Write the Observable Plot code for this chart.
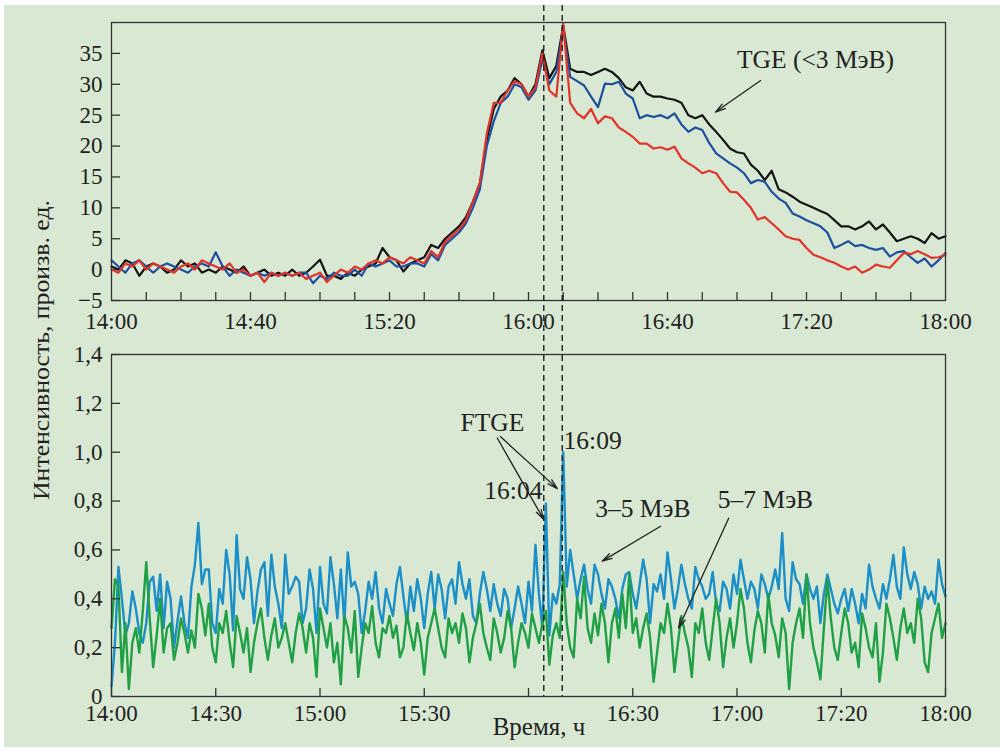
<!DOCTYPE html>
<html><head><meta charset="utf-8">
<script src="https://cdn.jsdelivr.net/npm/d3@7"></script>
<script src="https://cdn.jsdelivr.net/npm/@observablehq/plot@0.6"></script>
<style>
body{margin:0;background:#fff;width:1000px;height:751px;overflow:hidden;position:relative;font-family:"Liberation Serif",serif;}
#bg{position:absolute;left:4px;top:5px;width:996px;height:742px;background:#d9e8d2;}
.p{position:absolute;left:0;}
#ovl,#titles{pointer-events:none;}
#titles{position:absolute;left:0;top:0;}
</style></head>
<body>
<div id="bg"></div>
<div id="top" class="p" style="top:0"></div>
<div id="bot" class="p" style="top:330px"></div>
<div id="ovl" class="p" style="top:0"></div>
<svg id="titles" width="1000" height="751" font-family="Liberation Serif" fill="#222">
  <text transform="translate(44,350) rotate(-90)" text-anchor="middle" dominant-baseline="middle" font-size="23" textLength="300" lengthAdjust="spacingAndGlyphs">Интенсивность, произв. ед.</text>
  <text x="539" y="729" text-anchor="middle" dominant-baseline="middle" font-size="25">Время, ч</text>
</svg>
<script>
// ---- time axes (minutes after 14:00) ----
const topMinutes = d3.range(0, 241, 2);
const botMinutes = d3.range(0, 241, 1);

// ---- top panel: TGE (<3 MeV), three detectors ----
const tgeBlack = [
 0.5,0,1.5,1,-1,0.5,1,0.5,-0.5,0,
 1.5,0.5,1,-0.5,0,-0.5,0.5,0,-0.5,0.5,
 -1,-0.5,0,-1,-0.5,-1,0,-1,-0.5,0.5,
 1.6,-1,-1,-1.5,-0.5,-1,0,0.5,1,3.5,
 2,1.5,-0.3,1,1.5,2,4,3.5,5,6,
 7,8.5,11,14,21,26,28,29,31,30,
 28,30,35.5,31,33,39.5,32.5,32,32,31.5,
 32,32.5,32,31,29.5,29,30.4,28.5,28,28,
 27.7,27.5,27,25,24.5,25,23.5,22.3,21,19.6,
 19,18.8,17,16,14.5,16,13,12.5,11.8,11,
 10.5,10,9.5,9,8,7,7,6.5,7,7.8,
 6.5,7.3,6,4.6,5,5.4,5,4.3,5.9,5,
 5.4];
const tgeBlue = [
 1.5,0.5,-0.5,1,1.5,0.5,-0.5,0.5,1,0.5,
 0,-0.5,0.5,1,0.5,2.8,0.5,-1,0,-0.5,
 -1,-0.5,-1,-0.5,-1,-0.5,-1,-0.5,-0.5,-2.2,
 -1,-1.5,-0.5,-1,-1,0,-1,1,0.5,1,
 1.5,0.5,0.5,1,1,0.5,2.5,1.5,4,5,
 6,7.5,10,13,20,24,27,28,30,29.5,
 27.5,29,34,30,32,39,31.2,30.5,29.8,28,
 26.3,30.1,30,30.4,28.5,27.7,24.5,25,24.7,25,
 24.5,25.3,23.5,22.3,23,22.6,20.5,18.8,18,17.2,
 16.5,15.6,14,14.5,14.2,12.6,11.5,10.8,9.1,8.6,
 8,7.5,7,6,3.5,4,4.6,3.8,4,3.5,
 3.2,3.5,2.1,2.8,3,2,1.1,1.8,0.5,1.5,
 2.7];
const tgeRed = [
 0,-0.5,1,0.5,1.5,0,1,0.5,0,-0.5,
 0.5,1,0,1.5,1,0.5,0,1,-0.5,0,
 -1,-0.5,-2,-0.5,-1,-0.5,-1,-0.5,-1.5,-1,
 -0.5,-2,-1,0,-0.5,0.5,0,1,1.5,1,
 2,1.5,1,2,1.5,1,3,2,4.5,5.5,
 6.5,8,11,14,22,27,27,29,30.5,30,
 28,29.5,35,29,28,39.8,27,25.3,24.5,26,
 23.7,24.8,24.5,23,22.3,21.5,20.4,20.4,19.6,19.8,
 19.4,19.9,18,17.2,16.5,15.6,16,15.6,14,12.6,
 12.5,11.3,10,8.1,8.5,7.5,6.5,5.4,5,4.8,
 3.5,2.4,2,1.5,1.1,0.5,0,0.5,-0.5,0,
 0.8,0.5,0.3,1.5,2.7,2.5,3,2.5,1.9,2,
 2.4];

// ---- bottom panel: 3–5 MeV and 5–7 MeV ----
const mev35 = [
 0.04,0.22,0.53,0.40,0.25,0.30,0.43,0.36,0.26,0.22,
 0.30,0.47,0.49,0.35,0.50,0.28,0.47,0.40,0.20,0.31,
 0.41,0.30,0.24,0.45,0.54,0.71,0.46,0.52,0.52,0.30,
 0.26,0.44,0.38,0.60,0.50,0.27,0.66,0.44,0.40,0.57,
 0.48,0.30,0.43,0.52,0.55,0.33,0.58,0.45,0.38,0.28,
 0.58,0.42,0.45,0.49,0.47,0.30,0.36,0.52,0.44,0.26,
 0.53,0.38,0.34,0.57,0.46,0.32,0.52,0.30,0.59,0.45,
 0.47,0.42,0.26,0.35,0.47,0.40,0.51,0.36,0.30,0.44,
 0.38,0.33,0.46,0.53,0.41,0.30,0.45,0.35,0.48,0.40,
 0.28,0.42,0.51,0.36,0.50,0.44,0.32,0.45,0.48,0.38,
 0.55,0.46,0.40,0.48,0.33,0.30,0.42,0.51,0.44,0.35,
 0.46,0.38,0.33,0.44,0.40,0.28,0.36,0.45,0.38,0.30,
 0.47,0.35,0.62,0.42,0.28,0.79,0.25,0.42,0.38,0.46,
 1.00,0.45,0.60,0.50,0.40,0.48,0.54,0.44,0.38,0.54,
 0.50,0.42,0.36,0.48,0.45,0.40,0.32,0.44,0.50,0.51,
 0.42,0.36,0.46,0.56,0.48,0.30,0.46,0.43,0.50,0.40,
 0.59,0.48,0.36,0.44,0.54,0.46,0.40,0.36,0.53,0.48,
 0.45,0.40,0.42,0.51,0.38,0.35,0.47,0.44,0.36,0.50,
 0.42,0.56,0.48,0.40,0.47,0.44,0.36,0.50,0.46,0.40,
 0.45,0.52,0.44,0.67,0.40,0.35,0.55,0.48,0.46,0.38,
 0.50,0.44,0.40,0.45,0.30,0.42,0.50,0.44,0.38,0.34,
 0.40,0.44,0.35,0.44,0.38,0.30,0.42,0.36,0.54,0.45,
 0.40,0.36,0.46,0.40,0.48,0.58,0.45,0.40,0.61,0.50,
 0.44,0.51,0.46,0.36,0.45,0.40,0.43,0.38,0.56,0.46,
 0.41];
const mev57 = [
 0.28,0.48,0.45,0.10,0.30,0.03,0.22,0.28,0.18,0.35,
 0.55,0.32,0.12,0.25,0.40,0.18,0.28,0.30,0.15,0.22,
 0.32,0.26,0.18,0.27,0.20,0.42,0.36,0.25,0.38,0.20,
 0.14,0.30,0.26,0.35,0.22,0.12,0.33,0.26,0.18,0.28,
 0.10,0.22,0.30,0.36,0.24,0.15,0.25,0.32,0.20,0.24,
 0.30,0.22,0.14,0.26,0.34,0.28,0.18,0.30,0.24,0.08,
 0.36,0.28,0.20,0.30,0.14,0.22,0.05,0.33,0.28,0.18,
 0.35,0.08,0.20,0.30,0.26,0.37,0.22,0.16,0.28,0.26,
 0.33,0.24,0.29,0.16,0.20,0.34,0.26,0.19,0.30,0.22,
 0.09,0.24,0.30,0.36,0.28,0.20,0.16,0.32,0.26,0.30,
 0.22,0.34,0.28,0.14,0.24,0.30,0.38,0.26,0.20,0.15,
 0.32,0.26,0.18,0.24,0.35,0.28,0.12,0.22,0.30,0.26,
 0.20,0.34,0.28,0.22,0.30,0.35,0.13,0.25,0.30,0.24,
 0.51,0.30,0.20,0.16,0.40,0.32,0.49,0.28,0.22,0.34,
 0.25,0.38,0.30,0.14,0.30,0.36,0.24,0.42,0.28,0.50,
 0.26,0.32,0.20,0.28,0.34,0.24,0.06,0.18,0.30,0.26,
 0.38,0.28,0.10,0.22,0.33,0.26,0.20,0.08,0.30,0.26,
 0.36,0.22,0.15,0.28,0.40,0.30,0.12,0.24,0.32,0.20,
 0.30,0.44,0.36,0.22,0.14,0.27,0.35,0.30,0.18,0.42,
 0.30,0.25,0.16,0.32,0.26,0.03,0.22,0.30,0.36,0.24,
 0.50,0.30,0.20,0.14,0.07,0.28,0.48,0.32,0.20,0.15,
 0.26,0.36,0.30,0.18,0.22,0.12,0.34,0.28,0.20,0.16,
 0.30,0.06,0.18,0.38,0.32,0.24,0.15,0.28,0.36,0.26,
 0.30,0.22,0.40,0.32,0.14,0.10,0.26,0.32,0.38,0.24,
 0.30];

// ---- ticks and labels ----
const topMinorTicks = d3.range(10, 240, 10);
const topLabelTicks = [0, 40, 80, 120, 160, 200, 240];
const topLabels = ["14:00","14:40","15:20","16:00","16:40","17:20","18:00"];
const topYTicks = [-5, 0, 5, 10, 15, 20, 25, 30, 35];
const botXTicks = [0, 30, 60, 90, 120, 150, 180, 210, 240];
const botLabels = ["14:00","14:30","15:00","15:30","","16:30","17:00","17:20","18:00"];
const botYTicks = [0, 0.2, 0.4, 0.6, 0.8, 1.0, 1.2, 1.4];
const eventTimes = [124.4, 129.7];

// ---- annotations (data units) ----
const topNotes = [{t: 202.6, v: 34.0, label: "TGE (<3 МэВ)", anchor: "middle"}];
const topArrows = [{t1: 186.8, v1: 30.6, t2: 173.8, v2: 25.5}];
const botNotes = [
 {t: 109.6, v: 1.12, label: "FTGE", anchor: "middle"},
 {t: 130.1, v: 1.045, label: "16:09", anchor: "start"},
 {t: 124.0, v: 0.84, label: "16:04", anchor: "end"},
 {t: 152.9, v: 0.77, label: "3–5 МэВ", anchor: "middle"},
 {t: 188.2, v: 0.805, label: "5–7 МэВ", anchor: "middle"}
];
const botArrows = [
 {t1: 111.9, v1: 1.064, t2: 128.3, v2: 0.851},
 {t1: 111.0, v1: 1.058, t2: 124.4, v2: 0.724},
 {t1: 158.0, v1: 0.697, t2: 141.2, v2: 0.554},
 {t1: 177.6, v1: 0.73, t2: 163.2, v2: 0.28}
];

const W = 1000, ML = 111, MR = 55;
const FONT = "Liberation Serif";
const ink = "#222";
const frameInk = "#333";

const topRows = (arr) => topMinutes.map((t, i) => ({t, v: arr[i]}));
const botRows = (arr) => botMinutes.map((t, i) => ({t, v: arr[i]}));

const fmtMinus = d => d < 0 ? "\u2212" + Math.abs(d) : String(d);
const fmtComma = d => d === 0 ? "0" : d.toFixed(1).replace(".", ",");

const noteMarks = (notes) => ["middle", "start", "end"].map(a =>
  Plot.text(notes, {filter: d => d.anchor === a, x: "t", y: "v", text: "label", textAnchor: a,
    fontFamily: FONT, fontSize: 25.5, fill: ink}));

// ---- top plot ----
const topH = 345, topMT = 22, topMB = 45;
const topPlot = Plot.plot({
  width: W, height: topH, marginLeft: ML, marginRight: MR, marginTop: topMT, marginBottom: topMB,
  style: {background: "transparent", fontFamily: FONT, fontSize: "23px", color: ink},
  x: {domain: [0, 240]},
  y: {domain: [-5, 40]},
  marks: [
    Plot.ruleX(topMinorTicks, {x: d => d, insetTop: topH - topMT - topMB - 8, stroke: frameInk, strokeWidth: 1.3}),
    Plot.ruleY(topYTicks, {y: d => d, insetRight: W - ML - MR - 9, stroke: frameInk, strokeWidth: 1.3}),
    Plot.axisX(topLabelTicks, {tickSize: 0, tickPadding: 12, tickFormat: d => topLabels[topLabelTicks.indexOf(d)], label: null, fontSize: 23}),
    Plot.axisY(topYTicks, {tickSize: 0, tickPadding: 9, tickFormat: fmtMinus, label: null, fontSize: 23}),
    Plot.lineY(topRows(tgeBlack), {x: "t", y: "v", stroke: "#141414", strokeWidth: 2.2}),
    Plot.lineY(topRows(tgeBlue), {x: "t", y: "v", stroke: "#1d4f9e", strokeWidth: 2.2}),
    Plot.lineY(topRows(tgeRed), {x: "t", y: "v", stroke: "#e2332a", strokeWidth: 2.2}),
    Plot.frame({stroke: frameInk, strokeWidth: 1.3}),
    ...noteMarks(topNotes),
    Plot.arrow(topArrows, {x1: "t1", y1: "v1", x2: "t2", y2: "v2", stroke: "#222", strokeWidth: 1.3, headLength: 12, headAngle: 30})
  ]
});
document.getElementById("top").appendChild(topPlot);

// ---- bottom plot ----
const botH = 421, botMT = 24, botMB = 55;
const botPlot = Plot.plot({
  width: W, height: botH, marginLeft: ML, marginRight: MR, marginTop: botMT, marginBottom: botMB,
  style: {background: "transparent", fontFamily: FONT, fontSize: "23px", color: ink},
  x: {domain: [0, 240]},
  y: {domain: [0, 1.4]},
  marks: [
    Plot.lineY(botRows(mev35), {x: "t", y: "v", stroke: "#1a8fc8", strokeWidth: 2.4}),
    Plot.lineY(botRows(mev57), {x: "t", y: "v", stroke: "#20a046", strokeWidth: 2.4}),
    Plot.ruleX(botXTicks, {x: d => d, insetTop: botH - botMT - botMB - 8, stroke: frameInk, strokeWidth: 1.3}),
    Plot.ruleY(botYTicks, {y: d => d, insetRight: W - ML - MR - 9, stroke: frameInk, strokeWidth: 1.3}),
    Plot.axisX(botXTicks, {tickSize: 0, tickPadding: 8, tickFormat: d => botLabels[botXTicks.indexOf(d)], label: null, fontSize: 23}),
    Plot.axisY(botYTicks, {tickSize: 0, tickPadding: 9, tickFormat: fmtComma, label: null, fontSize: 23}),
    Plot.frame({stroke: frameInk, strokeWidth: 1.3}),
    ...noteMarks(botNotes),
    Plot.arrow(botArrows, {x1: "t1", y1: "v1", x2: "t2", y2: "v2", stroke: "#222", strokeWidth: 1.3, headLength: 12, headAngle: 30})
  ]
});
document.getElementById("bot").appendChild(botPlot);

// ---- overlay: dashed event lines through both panels ----
const ovl = Plot.plot({
  width: W, height: 700, marginLeft: ML, marginRight: MR, marginTop: 5, marginBottom: 4,
  style: {background: "transparent"},
  x: {domain: [0, 240], axis: null},
  marks: [
    Plot.ruleX(eventTimes, {x: d => d, stroke: "#111", strokeWidth: 1.3, strokeDasharray: "6,4"})
  ]
});
document.getElementById("ovl").appendChild(ovl);
</script>
</body></html>
